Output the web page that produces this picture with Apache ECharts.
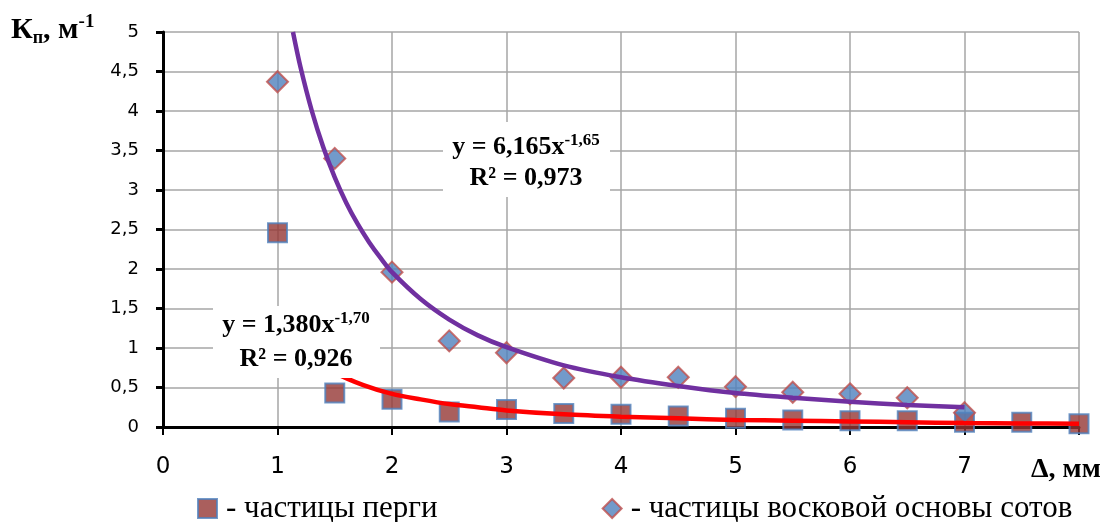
<!DOCTYPE html>
<html>
<head>
<meta charset="utf-8">
<script src="https://cdn.jsdelivr.net/npm/echarts@6/dist/echarts.min.js"></script>
<style>
  html, body { margin: 0; padding: 0; background: #fff; }
  #chart { width: 1111px; height: 522px; }
</style>
</head>
<body>
<div id="chart"></div>
<script>
// частицы перги (квадраты)
const pergaX = [1, 1.5, 2, 2.5, 3, 3.5, 4, 4.5, 5, 5.5, 6, 6.5, 7, 7.5, 8];
const pergaY = [2.46, 0.43, 0.35, 0.19, 0.22, 0.17, 0.16, 0.14, 0.11, 0.09, 0.08, 0.08, 0.06, 0.06, 0.04];
// частицы восковой основы сотов (ромбы)
const waxX = [1, 1.5, 2, 2.5, 3, 3.5, 4, 4.5, 5, 5.5, 6, 6.5, 7];
const waxY = [4.37, 3.4, 1.96, 1.09, 0.94, 0.62, 0.63, 0.63, 0.51, 0.44, 0.42, 0.37, 0.18];
// линии тренда
const waxTrendX = [1.135, 1.2, 1.3, 1.4, 1.5, 1.6, 1.7, 1.8, 1.9, 2, 2.25, 2.5, 2.75, 3, 3.5, 4, 4.5, 5, 5.5, 6, 6.5, 7];
const waxTrendY = [5.0, 4.56, 4.0, 3.54, 3.16, 2.84, 2.57, 2.34, 2.14, 1.96, 1.62, 1.36, 1.16, 1.01, 0.78, 0.63, 0.52, 0.43, 0.37, 0.32, 0.28, 0.25];
const pergaTrendX = [1, 1.25, 1.5, 1.75, 2, 2.25, 2.5, 2.75, 3, 3.5, 4, 4.5, 5, 5.5, 6, 6.5, 7, 7.5, 8];
const pergaTrendY = [1.38, 0.94, 0.69, 0.53, 0.42, 0.35, 0.29, 0.25, 0.21, 0.16, 0.13, 0.11, 0.09, 0.08, 0.07, 0.06, 0.05, 0.045, 0.04];

const legendNames = ["- частицы перги", "- частицы восковой основы сотов"];

const zip = (xs, ys) => xs.map((x, i) => [x, ys[i]]);
const serif = "'Liberation Serif', 'Times New Roman', serif";
const sans = "'DejaVu Sans', sans-serif";

const chart = echarts.init(document.getElementById("chart"));

const eqRich = {
  m: { fontFamily: serif, fontWeight: "bold", fontSize: 26, lineHeight: 30, fill: "#000" },
  s: { fontFamily: serif, fontWeight: "bold", fontSize: 17, lineHeight: 30, verticalAlign: "top", fill: "#000" }
};

const option = {
  animation: false,
  grid: { left: 163, right: 32, top: 32, bottom: 95 },
  xAxis: {
    type: "value",
    min: 0,
    max: 8,
    interval: 1,
    axisLine: { lineStyle: { color: "#000", width: 3 } },
    axisTick: { length: 8, lineStyle: { color: "#000", width: 2 } },
    axisLabel: {
      margin: 29,
      color: "#000",
      fontFamily: sans,
      fontSize: 23,
      formatter: v => (v === 8 ? "" : String(v))
    },
    splitLine: { show: true, lineStyle: { color: "#a6a6a6", width: 1.5 } }
  },
  yAxis: {
    type: "value",
    min: 0,
    max: 5,
    interval: 0.5,
    axisLine: { show: true, lineStyle: { color: "#000", width: 3 } },
    axisTick: { show: true, length: 7, lineStyle: { color: "#000", width: 3 } },
    axisLabel: {
      margin: 24,
      color: "#000",
      fontFamily: sans,
      fontSize: 18,
      formatter: v => String(v).replace(".", ",")
    },
    splitLine: { show: true, lineStyle: { color: "#a6a6a6", width: 1.5 } }
  },
  legend: {
    left: 192,
    top: 488,
    itemWidth: 19,
    itemHeight: 19,
    itemGap: 164,
    data: [
      { name: legendNames[0], icon: "rect" },
      { name: legendNames[1], icon: "diamond" }
    ],
    textStyle: {
      fontFamily: serif,
      fontSize: 31,
      color: "#000",
      padding: [0, 0, 0, 4]
    }
  },
  series: [
    {
      name: legendNames[0],
      type: "scatter",
      symbol: "rect",
      symbolSize: 19,
      z: 2,
      itemStyle: { color: "#953735", borderColor: "#4f81bd", borderWidth: 2 },
      data: zip(pergaX, pergaY)
    },
    {
      name: legendNames[1],
      type: "scatter",
      symbol: "diamond",
      symbolSize: 21,
      z: 2,
      itemStyle: { color: "#4f81bd", borderColor: "#c0504d", borderWidth: 2 },
      data: zip(waxX, waxY)
    },
    {
      name: "trend-perga",
      type: "line",
      smooth: 0.3,
      showSymbol: false,
      z: 3,
      lineStyle: { color: "#ff0000", width: 4.5 },
      data: zip(pergaTrendX, pergaTrendY)
    },
    {
      name: "trend-wax",
      type: "line",
      smooth: 0.3,
      showSymbol: false,
      z: 3,
      lineStyle: { color: "#7030a0", width: 4.5 },
      data: zip(waxTrendX, waxTrendY)
    }
  ],
  graphic: {
    z: 100,
    elements: [
      // подпись тренда восковой основы
      { type: "rect", z: 100, shape: { x: 443, y: 122, width: 167, height: 75 }, style: { fill: "#fff" } },
      {
        type: "text", z: 101, x: 526, y: 147,
        style: { text: "{m|y = 6,165x}{s|-1,65}", align: "center", verticalAlign: "middle", rich: eqRich }
      },
      {
        type: "text", z: 101, x: 526, y: 178,
        style: { text: "R² = 0,973", align: "center", verticalAlign: "middle",
          font: "bold 26px " + serif, fill: "#000" }
      },
      // подпись тренда перги
      { type: "rect", z: 100, shape: { x: 213, y: 306, width: 167, height: 72 }, style: { fill: "#fff" } },
      {
        type: "text", z: 101, x: 296, y: 325,
        style: { text: "{m|y = 1,380x}{s|-1,70}", align: "center", verticalAlign: "middle", rich: eqRich }
      },
      {
        type: "text", z: 101, x: 296, y: 359,
        style: { text: "R² = 0,926", align: "center", verticalAlign: "middle",
          font: "bold 26px " + serif, fill: "#000" }
      },
      // подпись оси Y
      {
        type: "text", z: 101, x: 11, y: 30,
        style: {
          text: "{m|К}{sub|п}{m|, м}{s|-1}",
          verticalAlign: "middle",
          rich: {
            m: { fontFamily: serif, fontWeight: "bold", fontSize: 30, lineHeight: 34, fill: "#000" },
            sub: { fontFamily: serif, fontWeight: "bold", fontSize: 18, lineHeight: 30, verticalAlign: "bottom", fill: "#000" },
            s: { fontFamily: serif, fontWeight: "bold", fontSize: 19, lineHeight: 34, verticalAlign: "top", fill: "#000" }
          }
        }
      },
      // подпись оси X
      {
        type: "text", z: 101, x: 1031, y: 470,
        style: { text: "Δ, мм", verticalAlign: "middle",
          font: "bold 28px " + serif, fill: "#000" }
      }
    ]
  }
};

chart.setOption(option);
</script>
</body>
</html>
